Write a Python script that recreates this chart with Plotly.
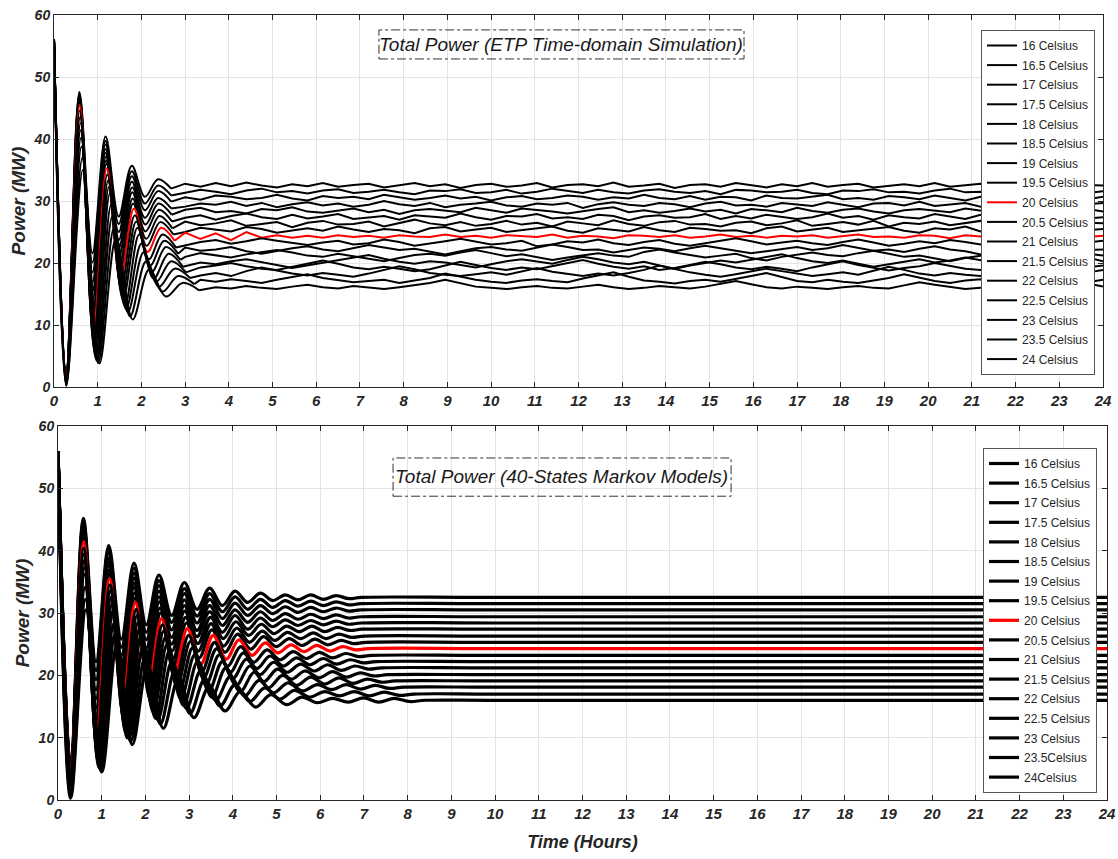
"""Total power of 17 thermostat set-points: ETP simulation vs 40-state Markov model."""
import plotly.graph_objects as go

# ---------------------------------------------------------------- data
ETP_LABELS = ['16 Celsius', '16.5 Celsius', '17 Celsius', '17.5 Celsius', '18 Celsius', '18.5 Celsius',
              '19 Celsius', '19.5 Celsius', '20 Celsius', '20.5 Celsius', '21 Celsius', '21.5 Celsius',
              '22 Celsius', '22.5 Celsius', '23 Celsius', '23.5 Celsius', '24 Celsius']
MARKOV_LABELS = ['16 Celsius', '16.5 Celsius', '17 Celsius', '17.5 Celsius', '18 Celsius', '18.5 Celsius',
                 '19 Celsius', '19.5 Celsius', '20 Celsius', '20.5 Celsius', '21 Celsius', '21.5 Celsius',
                 '22 Celsius', '22.5 Celsius', '23 Celsius', '23.5Celsius', '24Celsius']
HIGHLIGHT = '20 Celsius'

# steady-state power level of every set-point (MW)
LEVELS = [32.5, 31.5, 30.5, 29.4, 28.4, 27.4, 26.3, 25.3, 24.3, 23.2, 22.2, 21.2, 20.1, 19.1, 18.1, 17.0, 16.0]

# Markov model: times (h) of start / turning points, and the power there
T_G0 = [0, 0.29, 0.58, 0.87, 1.16, 1.45, 1.74, 2.02, 2.31, 2.60, 2.89, 3.18, 3.47, 3.76, 4.05, 4.34, 4.63, 4.91, 5.20,
        5.49, 5.78, 6.07, 6.36, 6.65, 6.94, 10.0, 24]
MARKOV_TIMES = [
    T_G0, T_G0, T_G0, T_G0, T_G0,
    [0, 0.29, 0.58, 0.87, 1.16, 1.45, 1.74, 2.03, 2.32, 2.61, 2.90, 3.20, 3.49, 3.78, 4.07, 4.36, 4.65, 4.94, 5.23, 5.52,
     5.81, 6.10, 6.39, 6.68, 6.97, 10.0, 24],
    [0, 0.29, 0.58, 0.87, 1.17, 1.46, 1.75, 2.04, 2.33, 2.63, 2.92, 3.21, 3.50, 3.79, 4.09, 4.38, 4.67, 4.96, 5.25, 5.55,
     5.84, 6.13, 6.42, 6.71, 7.01, 10.0, 24],
    [0, 0.29, 0.58, 0.88, 1.17, 1.47, 1.76, 2.05, 2.35, 2.64, 2.94, 3.23, 3.52, 3.82, 4.11, 4.41, 4.70, 4.99, 5.29, 5.58,
     5.88, 6.17, 6.47, 6.76, 7.05, 10.0, 24],
    [0, 0.29, 0.59, 0.88, 1.18, 1.48, 1.77, 2.07, 2.37, 2.66, 2.96, 3.26, 3.55, 3.85, 4.14, 4.44, 4.74, 5.03, 5.33, 5.63,
     5.92, 6.22, 6.51, 6.81, 7.11, 10.0, 24],
    [0, 0.29, 0.59, 0.89, 1.19, 1.49, 1.79, 2.09, 2.39, 2.69, 2.99, 3.29, 3.58, 3.88, 4.18, 4.48, 4.78, 5.08, 5.38, 5.68,
     5.98, 6.28, 6.58, 6.88, 7.18, 10.0, 24],
    [0, 0.29, 0.59, 0.90, 1.20, 1.51, 1.81, 2.11, 2.42, 2.72, 3.03, 3.33, 3.63, 3.94, 4.24, 4.55, 4.85, 5.15, 5.46, 5.76,
     6.07, 6.37, 6.68, 6.98, 7.28, 10.0, 24],
    [0, 0.29, 0.60, 0.91, 1.22, 1.53, 1.84, 2.15, 2.46, 2.77, 3.08, 3.39, 3.69, 4.00, 4.31, 4.62, 4.93, 5.24, 5.55, 5.86,
     6.17, 6.48, 6.79, 7.10, 7.41, 10.0, 24],
    [0, 0.29, 0.61, 0.92, 1.24, 1.55, 1.87, 2.18, 2.50, 2.81, 3.13, 3.45, 3.76, 4.08, 4.39, 4.71, 5.02, 5.34, 5.65, 5.97,
     6.28, 6.60, 6.91, 7.23, 7.55, 10.0, 24],
    [0, 0.29, 0.61, 0.94, 1.26, 1.58, 1.91, 2.23, 2.55, 2.87, 3.20, 3.52, 3.84, 4.17, 4.49, 4.81, 5.14, 5.46, 5.78, 6.10,
     6.43, 6.75, 7.07, 7.40, 7.72, 10.0, 24],
    [0, 0.29, 0.62, 0.95, 1.28, 1.62, 1.95, 2.28, 2.61, 2.94, 3.27, 3.61, 3.94, 4.27, 4.60, 4.93, 5.26, 5.59, 5.93, 6.26,
     6.59, 6.92, 7.25, 7.58, 7.92, 10.0, 24],
    [0, 0.29, 0.63, 0.97, 1.31, 1.66, 2.00, 2.34, 2.68, 3.02, 3.36, 3.71, 4.05, 4.39, 4.73, 5.07, 5.41, 5.75, 6.10, 6.44,
     6.78, 7.12, 7.46, 7.81, 8.15, 10.0, 24],
    [0, 0.29, 0.64, 1.00, 1.35, 1.70, 2.05, 2.41, 2.76, 3.11, 3.46, 3.82, 4.17, 4.52, 4.87, 5.23, 5.58, 5.93, 6.28, 6.64,
     6.99, 7.34, 7.69, 8.05, 8.40, 10.0, 24],
]
MARKOV_POWER = [
    [56, 5.5, 45.2, 22.2, 40.8, 25.8, 38.0, 28.1, 36.1, 29.6, 34.9, 30.6, 34.0, 31.2, 33.5, 31.7, 33.2, 32.0, 32.9, 32.1,
     32.9, 32.2, 32.8, 32.3, 32.5, 32.5, 32.5],
    [56, 5.2, 44.7, 20.8, 40.2, 24.5, 37.2, 26.9, 35.2, 28.5, 33.9, 29.5, 33.1, 30.2, 32.6, 30.6, 32.2, 30.9, 32.0, 31.1,
     31.9, 31.2, 31.8, 31.3, 31.5, 31.5, 31.5],
    [56, 5.0, 44.3, 19.3, 39.6, 23.2, 36.4, 25.7, 34.4, 27.3, 33.1, 28.4, 32.2, 29.1, 31.6, 29.6, 31.2, 29.9, 31.0, 30.1,
     30.9, 30.2, 30.8, 30.3, 30.5, 30.5, 30.5],
    [56, 4.8, 43.8, 17.7, 38.8, 21.7, 35.6, 24.4, 33.5, 26.1, 32.1, 27.2, 31.2, 28.0, 30.5, 28.5, 30.2, 28.8, 29.9, 29.0,
     29.8, 29.1, 29.7, 29.2, 29.4, 29.4, 29.4],
    [56, 4.6, 43.3, 16.3, 38.2, 20.5, 34.8, 23.2, 32.6, 25.0, 31.2, 26.2, 30.2, 26.9, 29.6, 27.4, 29.2, 27.8, 28.9, 28.0,
     28.8, 28.1, 28.7, 28.2, 28.4, 28.4, 28.4],
    [56, 4.4, 42.9, 14.8, 37.6, 19.2, 34.1, 22.0, 31.8, 23.9, 30.3, 25.1, 29.3, 25.9, 28.6, 26.4, 28.2, 26.7, 27.9, 27.0,
     27.9, 27.0, 27.7, 27.2, 27.4, 27.4, 27.4],
    [56, 4.2, 42.4, 13.3, 36.9, 17.7, 33.2, 20.7, 30.8, 22.6, 29.3, 23.9, 28.3, 24.7, 27.6, 25.3, 27.1, 25.6, 26.9, 25.9,
     26.8, 25.9, 26.6, 26.1, 26.3, 26.3, 26.3],
    [56, 4.1, 41.9, 11.9, 36.2, 16.5, 32.4, 19.5, 30.0, 21.5, 28.4, 22.8, 27.3, 23.7, 26.6, 24.2, 26.2, 24.6, 25.9, 24.8,
     25.8, 24.9, 25.6, 25.1, 25.3, 25.3, 25.3],
    [56, 4.0, 41.4, 10.4, 35.5, 15.2, 31.7, 18.3, 29.1, 20.4, 27.5, 21.7, 26.4, 22.6, 25.7, 23.2, 25.2, 23.6, 24.9, 23.8,
     24.8, 23.9, 24.6, 24.1, 24.3, 24.3, 24.3],
    [56, 3.6, 40.4, 9.3, 34.5, 14.1, 30.6, 17.2, 28.1, 19.3, 26.4, 20.6, 25.3, 21.5, 24.6, 22.1, 24.1, 22.5, 23.8, 22.7,
     23.7, 22.8, 23.5, 23.0, 23.2, 23.2, 23.2],
    [56, 3.2, 39.4, 8.3, 33.5, 13.1, 29.6, 16.2, 27.1, 18.3, 25.4, 19.6, 24.3, 20.5, 23.6, 21.1, 23.1, 21.5, 22.8, 21.7,
     22.7, 21.8, 22.5, 22.0, 22.2, 22.2, 22.2],
    [56, 2.8, 38.4, 7.3, 32.5, 12.1, 28.6, 15.2, 26.1, 17.3, 24.4, 18.6, 23.3, 19.5, 22.6, 20.1, 22.1, 20.5, 21.8, 20.7,
     21.7, 20.8, 21.5, 21.0, 21.2, 21.2, 21.2],
    [56, 2.4, 37.3, 6.2, 31.4, 11.0, 27.5, 14.1, 25.0, 16.2, 23.3, 17.5, 22.2, 18.4, 21.5, 19.0, 21.0, 19.4, 20.7, 19.6,
     20.6, 19.7, 20.4, 19.9, 20.1, 20.1, 20.1],
    [56, 2.0, 36.2, 5.2, 30.3, 10.0, 26.5, 13.1, 23.9, 15.2, 22.3, 16.5, 21.2, 17.4, 20.5, 18.0, 20.0, 18.4, 19.7, 18.6,
     19.6, 18.7, 19.4, 18.9, 19.1, 19.1, 19.1],
    [56, 1.5, 34.1, 5.3, 28.3, 9.9, 24.7, 12.9, 22.3, 14.7, 20.8, 16.0, 19.8, 16.7, 19.2, 17.2, 18.8, 17.5, 18.5, 17.7,
     18.5, 17.8, 18.4, 17.9, 18.1, 18.1, 18.1],
    [56, 1.0, 32.2, 4.9, 26.6, 9.4, 23.1, 12.2, 20.8, 13.9, 19.4, 15.1, 18.5, 15.8, 18.0, 16.2, 17.6, 16.5, 17.4, 16.7,
     17.4, 16.7, 17.3, 16.8, 17.0, 17.0, 17.0],
    [56, 0.3, 30.5, 4.5, 25.0, 8.9, 21.6, 11.5, 19.5, 13.2, 18.2, 14.3, 17.4, 14.9, 16.9, 15.3, 16.5, 15.6, 16.3, 15.7,
     16.4, 15.7, 16.3, 15.8, 16.0, 16.0, 16.0],
]

# ETP simulation, start-up transient: turning points
T_E0 = [0, 0.28, 0.58, 0.88, 1.18, 1.48, 1.78, 2.08, 2.38, 2.68]
ETP_TIMES = [
    T_E0, T_E0, T_E0, T_E0,
    [0, 0.28, 0.58, 0.88, 1.18, 1.48, 1.79, 2.09, 2.39, 2.69],
    [0, 0.28, 0.58, 0.88, 1.19, 1.49, 1.79, 2.09, 2.40, 2.70],
    [0, 0.28, 0.58, 0.89, 1.19, 1.50, 1.80, 2.11, 2.41, 2.71],
    [0, 0.28, 0.59, 0.89, 1.20, 1.51, 1.81, 2.12, 2.43, 2.73],
    [0, 0.28, 0.59, 0.90, 1.21, 1.52, 1.83, 2.14, 2.45, 2.76],
    [0, 0.28, 0.59, 0.91, 1.22, 1.54, 1.85, 2.17, 2.48, 2.79],
    [0, 0.28, 0.60, 0.92, 1.24, 1.56, 1.88, 2.20, 2.52, 2.84],
    [0, 0.28, 0.61, 0.93, 1.26, 1.58, 1.91, 2.24, 2.56, 2.89],
    [0, 0.28, 0.61, 0.95, 1.28, 1.62, 1.95, 2.28, 2.62, 2.95],
    [0, 0.28, 0.62, 0.97, 1.31, 1.65, 2.00, 2.34, 2.68, 3.02],
    [0, 0.28, 0.63, 0.99, 1.34, 1.69, 2.05, 2.40, 2.76, 3.11],
    [0, 0.28, 0.65, 1.01, 1.38, 1.74, 2.11, 2.48, 2.84, 3.21],
    [0, 0.28, 0.66, 1.04, 1.42, 1.80, 2.18, 2.56, 2.94, 3.32],
]
ETP_POWER = [
    [56, 2.5, 47.6, 21.6, 40.4, 27.5, 35.7, 30.7, 33.5, 32.0],
    [56, 2.4, 47.3, 20.1, 39.7, 26.3, 34.8, 29.6, 32.5, 30.9],
    [56, 2.3, 47.1, 18.5, 39.1, 25.0, 34.0, 28.5, 31.6, 29.9],
    [56, 2.2, 46.8, 16.9, 38.4, 23.7, 33.1, 27.3, 30.5, 28.8],
    [56, 2.1, 46.5, 15.4, 37.8, 22.4, 32.2, 26.2, 29.6, 27.8],
    [56, 2.0, 46.3, 13.8, 37.2, 21.2, 31.4, 25.1, 28.6, 26.7],
    [56, 1.9, 46.0, 12.1, 36.5, 19.8, 30.4, 23.9, 27.6, 25.6],
    [56, 1.8, 45.8, 10.5, 36.0, 18.5, 29.6, 22.8, 26.6, 24.6],
    [56, 1.7, 45.5, 9.0, 35.3, 17.3, 28.8, 21.8, 25.7, 23.6],
    [56, 1.5, 44.6, 7.8, 34.3, 16.1, 27.7, 20.6, 24.6, 22.5],
    [56, 1.3, 43.6, 6.8, 33.3, 15.1, 26.7, 19.6, 23.6, 21.5],
    [56, 1.1, 42.6, 5.8, 32.3, 14.1, 25.7, 18.6, 22.6, 20.5],
    [56, 0.9, 41.4, 4.8, 31.2, 13.1, 24.6, 17.5, 21.5, 19.4],
    [56, 0.7, 40.2, 4.3, 29.4, 12.6, 23.1, 17.0, 20.3, 18.5],
    [56, 0.5, 38.8, 4.2, 27.6, 12.1, 21.7, 16.2, 19.1, 17.6],
    [56, 0.3, 37.0, 3.9, 25.8, 11.4, 20.3, 15.4, 17.9, 16.6],
    [56, 0.2, 35.0, 3.8, 24.0, 10.9, 19.0, 14.6, 16.8, 15.6],
]

# ETP simulation after the transient: sample hours and fluctuation around the level (tenths of MW)
STEADY_HOURS = [3.0, 3.35, 3.7, 4.05, 4.4, 4.75, 5.1, 5.45, 5.8, 6.15, 6.5, 6.85, 7.2, 7.55, 7.9, 8.25, 8.6, 8.95,
                9.3, 9.65, 10.0, 10.35, 10.7, 11.05, 11.4, 11.75, 12.1, 12.45, 12.8, 13.15, 13.5, 13.85, 14.2, 14.55,
                14.9, 15.25, 15.6, 15.95, 16.3, 16.65, 17.0, 17.35, 17.7, 18.05, 18.4, 18.75, 19.1, 19.45, 19.8,
                20.15, 20.5, 20.85, 21.2, 21.55, 21.9, 22.25, 22.6, 22.95, 23.3, 23.65, 24.0]
ETP_NOISE = [
    [3, -2, 4, -1, 5, 0, -3, 2, -1, 4, -2, 1, 3, -3, 0, 4, -1, 2, -4, 1, 3, -2, 0, 4, -3, 1, 2, -1, 5, -2,
     0, 3, -4, 1, 2, -2, 4, 0, -3, 2, -1, 4, -2, 1, 3, -3, 0, 2, -1, 4, -2, 1, 3, -4, 2, 0, -1, 3, -2, 1, 0],
    [-2, 3, 0, -4, 2, 5, -1, 1, -3, 2, 4, -2, 0, 3, -1, -4, 2, 1, 4, -2, -1, 3, -3, 0, 5, 1, -2, 3, -1, -3,
     2, 4, 0, -2, 1, -4, 3, 2, -1, 0, 3, -2, -4, 2, 1, 4, -1, 0, -3, 2, 5, -1, 0, -3, 3, 1, -2, 4, 0, -2, 1],
    [1, -3, 4, 2, -2, 0, 5, -1, -4, 3, 0, 2, -2, 5, 1, -3, 0, 4, -1, 2, -4, 1, 3, -2, 0, 4, 2, -3, 1, -1,
     5, 0, -2, 3, -3, 2, 1, -4, 4, 0, -1, 2, 5, -2, 0, -3, 3, 1, -2, 4, 0, -4, 2, 3, -1, 1, -3, 0, 4, -2, 2],
    [-3, 2, 0, 5, -2, 3, -4, 1, 4, -1, 2, -3, 0, 6, 1, -2, 3, -4, 0, 2, 5, -1, -3, 2, 0, 3, -5, 1, 4, 0,
     -2, 3, 1, -4, 2, 5, -1, 0, -3, 3, 1, -2, 4, 0, -4, 2, 3, -1, 5, -2, 0, 3, -3, 1, 4, -2, 0, 2, -4, 1, 3],
    [2, 5, -2, 0, -4, 3, 1, 6, -1, -3, 0, 4, -2, 2, -5, 1, 3, 0, -2, 5, 1, -3, 4, 2, -1, -4, 0, 3, 6, -2,
     1, -3, 0, 4, -1, 2, -4, 3, 1, -2, 5, 0, -3, 2, 4, -1, -4, 1, 3, 0, -2, 4, 1, -3, 0, 5, -2, 2, -1, 3, -1],
    [-1, 3, -4, 2, 6, 0, -3, 4, -2, 1, 5, -3, 0, 2, -4, 3, 1, -1, 6, 0, -4, 2, 1, 5, -2, 0, -3, 4, 2, -5,
     1, 3, -1, 0, 5, -3, 2, -2, 4, 1, -3, 0, 6, -1, 2, -4, 3, 0, -2, 5, 1, -3, 4, 0, -1, 3, -4, 2, 5, -2, 0],
    [4, -2, 1, 6, -3, 0, 3, -5, 2, 5, -1, 0, 4, -4, 2, 7, 1, -2, 3, -3, 0, 5, -1, 2, -4, 4, 1, -2, 6, 0,
     -3, 3, 5, -1, 0, -4, 2, 4, -2, 1, 6, -3, 0, 3, -1, 5, -4, 2, 0, 4, -2, 1, 5, -3, 2, 0, -1, 4, -4, 2, 1],
    [-3, 4, 1, -2, 5, 2, -4, 0, 3, -1, 6, 1, -3, 2, 0, -5, 3, 5, -2, 1, 4, -3, 0, 2, 6, -1, -4, 3, 1, -2,
     5, 0, -3, 4, 2, -1, 0, -5, 3, 6, -2, 1, 4, -3, 0, 2, 5, -1, -4, 3, 1, 6, -2, 0, 3, -3, 2, 4, -1, 0, 2],
    [6, -4, 5, -6, 7, -2, 2, -2, 1, -2, 2, -1, 1, -2, 2, 0, -1, 3, -1, 1, -2, 2, 0, -1, 3, -2, 1, 0, -3, 2,
     1, -1, 2, -2, 0, 3, -1, 1, -2, 1, 0, 2, -2, 1, 3, -1, 0, -2, 2, 1, -3, 2, 0, 1, -2, 3, 0, -1, 2, -1, 1],
    [-4, 2, 5, -1, 3, 8, 4, 0, -3, 1, 4, -2, 0, 6, 2, -4, -1, 3, 7, 2, -2, 0, 4, -5, -2, 3, 1, 6, 0, -3,
     2, 5, -1, -4, 0, 3, 8, 3, -2, 1, 4, 0, -3, 2, 6, 1, -4, -1, 3, 0, 5, 2, -2, 4, 9, 3, -1, 2, -3, 1, 4],
    [3, -2, 0, 4, -3, -7, -2, 2, 5, 0, -3, 2, 7, 3, -1, 1, -4, -8, -3, 2, 4, 0, -2, 3, 8, 4, -1, 0, -5, -1,
     3, 1, -3, 2, 6, 2, -2, -6, -3, 1, 4, -1, 2, 7, 3, -2, 0, -4, 1, 5, 0, -3, -8, -4, 1, 3, -2, 6, 2, -1, 0],
    [-2, 4, 1, -3, 2, 6, 9, 5, 0, -2, 3, -1, -5, -9, -4, 1, 3, 0, 5, 9, 4, -1, 2, -3, -7, -3, 1, 4, 0, -2,
     6, 10, 5, 1, -3, 0, 3, -4, -8, -2, 2, 5, 1, -1, 4, 8, 3, -2, 0, -5, -9, -4, 0, 3, 7, 11, 6, 1, -2, 3, 0],
    [4, 0, -3, 2, 5, 1, -4, -9, -5, 0, 3, 8, 12, 6, 1, -2, 2, 0, -4, -8, -3, 2, 5, 1, -2, 4, 9, 5, 0, -3,
     1, -5, -10, -5, -1, 3, 0, 4, 9, 13, 7, 2, -1, 3, -2, -7, -3, 1, 5, 0, 3, 8, 4, -1, -5, -2, 2, 6, 12, 8, 2],
    [-3, 2, 5, 9, 4, 0, -2, 3, 8, 13, 8, 2, -1, 3, 0, -4, -1, 5, 11, 6, 1, -2, 2, -1, 4, 9, 14, 8, 3, 0,
     4, -2, 1, 6, 11, 7, 2, -1, 3, 0, -4, 2, 7, 12, 6, 1, -3, 1, 4, 9, 5, 0, -2, 3, 10, 15, 9, 3, -1, 2, 5],
    [2, -1, 3, -2, 6, 12, 7, 2, -1, 3, 0, -3, 2, 8, 14, 9, 3, 0, -2, 1, 4, 0, 6, 11, 5, 1, -2, 2, -1, 3,
     8, 15, 9, 4, 0, -3, 1, 5, 10, 6, 2, -2, 1, 4, 0, 7, 13, 8, 2, -1, 3, 0, -2, 5, 11, 6, 1, 3, -1, 4, 8],
    [-1, 3, 0, 4, 1, -2, 3, 7, 12, 6, 2, -1, 1, 3, -2, 2, 6, 13, 8, 3, 0, -2, 2, 4, 1, -1, 5, 10, 15, 8,
     2, 0, -3, 1, 3, 0, 4, 9, 14, 7, 1, -1, 3, 0, -2, 2, 6, 12, 6, 1, -2, 2, 4, 0, 3, 8, 13, 7, 2, -1, 3],
    [2, 4, 1, -1, 3, 0, -2, 2, 5, 1, -1, 3, 0, -2, 1, 4, 8, 13, 7, 2, 0, -2, 1, 3, 0, -1, 2, 5, 1, -2,
     0, 3, 1, -1, 2, 6, 11, 6, 1, -1, 2, 0, -2, 1, 3, 0, -1, 4, 9, 5, 1, -2, 0, 2, 4, 1, -1, 3, 12, 7, 2],
]

# ---------------------------------------------------------------- style
TEXT_COLOR = '#262626'
GRID_COLOR = '#e4e4e4'
FONT = 'Liberation Sans, Arial, sans-serif'
NARROW = 'Liberation Sans Narrow, Liberation Sans, Arial, sans-serif'

for noise in ETP_NOISE:
    assert len(noise) == len(STEADY_HOURS)
for times, power in zip(MARKOV_TIMES, MARKOV_POWER):
    assert len(times) == len(power)


def colour(label):
    return 'red' if label == HIGHLIGHT else 'black'


fig = go.Figure()

# top panel: ETP time-domain simulation
for k, label in enumerate(ETP_LABELS):
    t_tr, p_tr = ETP_TIMES[k], ETP_POWER[k]
    fig.add_trace(go.Scatter(
        x=t_tr, y=p_tr, mode='lines', name=label, legend='legend', legendgroup=f'etp{k}',
        line=dict(color=colour(label), width=2, shape='spline', smoothing=1.0),
        xaxis='x', yaxis='y', hoverinfo='skip',
    ))
    xs, ys = [t_tr[-1]], [p_tr[-1]]
    for hour, dev in zip(STEADY_HOURS, ETP_NOISE[k]):
        if hour > t_tr[-1] + 0.1:
            xs.append(hour)
            ys.append(LEVELS[k] + dev / 10)
    fig.add_trace(go.Scatter(
        x=xs, y=ys, mode='lines', name=label, legendgroup=f'etp{k}', showlegend=False,
        line=dict(color=colour(label), width=2),
        xaxis='x', yaxis='y', hoverinfo='skip',
    ))

# bottom panel: 40-state Markov models
for k, label in enumerate(MARKOV_LABELS):
    fig.add_trace(go.Scatter(
        x=MARKOV_TIMES[k], y=MARKOV_POWER[k], mode='lines', name=label, legend='legend2',
        legendgroup=f'mk{k}',
        line=dict(color=colour(label), width=3.2, shape='spline', smoothing=1.0),
        xaxis='x2', yaxis='y2', hoverinfo='skip',
    ))

tick_x = dict(family=NARROW, size=15, color=TEXT_COLOR, weight='bold', style='italic')
tick_y = dict(family=FONT, size=14, color=TEXT_COLOR, weight='bold', style='italic')
axis_common = dict(
    showline=True, linecolor=TEXT_COLOR, linewidth=1, mirror='ticks',
    ticks='inside', ticklen=5, tickcolor=TEXT_COLOR,
    showgrid=True, gridcolor=GRID_COLOR, gridwidth=1, zeroline=False, automargin=False,
)
x_common = dict(range=[0, 24], tick0=0, dtick=1, tickfont=tick_x, **axis_common)
y_common = dict(range=[0, 60], tick0=0, dtick=10, tickfont=tick_y,
                title=dict(text='Power (MW)', standoff=2,
                           font=dict(family=FONT, size=19, color=TEXT_COLOR, weight='bold', style='italic')),
                **axis_common)

legend_common = dict(
    bgcolor='white', bordercolor='#555555', borderwidth=1,
    font=dict(family=FONT, size=12, color=TEXT_COLOR),
    xanchor='right', yanchor='top', tracegroupgap=0.6, itemclick=False, itemdoubleclick=False,
)

title_font = dict(family=FONT, size=19, color='#1a1a1a', style='italic')

fig.update_layout(
    width=1118, height=859,
    margin=dict(l=54, r=11, t=15, b=59),
    paper_bgcolor='white', plot_bgcolor='white',
    xaxis=dict(domain=[0, 0.9962], anchor='y', **x_common),
    yaxis=dict(domain=[0.526, 1], anchor='x', **y_common),
    xaxis2=dict(domain=[0.0038, 1], anchor='y2',
                title=dict(text='Time (Hours)', standoff=14,
                           font=dict(family=NARROW, size=18, color=TEXT_COLOR, weight='bold', style='italic')),
                **x_common),
    yaxis2=dict(domain=[0, 0.4764], anchor='x2', **y_common),
    legend=dict(x=0.9886, y=0.9809, **legend_common),
    legend2=dict(x=0.9905, y=0.4484, **legend_common),
    annotations=[
        dict(text='Total Power (ETP Time-domain Simulation)', x=0.4815, y=0.9624, xref='paper', yref='paper',
             showarrow=False, font=title_font, xanchor='center', yanchor='middle'),
        dict(text='Total Power (40-States Markov Models)', x=0.4824, y=0.4115, xref='paper', yref='paper',
             showarrow=False, font=title_font, xanchor='center', yanchor='middle'),
    ],
    shapes=[
        dict(type='rect', xref='paper', yref='paper', x0=0.3086, x1=0.6553, y0=0.944, y1=0.981,
             line=dict(color='#333333', width=1, dash='dashdot'), fillcolor='rgba(0,0,0,0)'),
        dict(type='rect', xref='paper', yref='paper', x0=0.322, x1=0.643, y0=0.387, y1=0.4357,
             line=dict(color='#333333', width=1, dash='dashdot'), fillcolor='rgba(0,0,0,0)'),
    ],
)

fig.write_html('out.html', config={'displayModeBar': False},
               post_script="document.body.style.margin = '0px';")
